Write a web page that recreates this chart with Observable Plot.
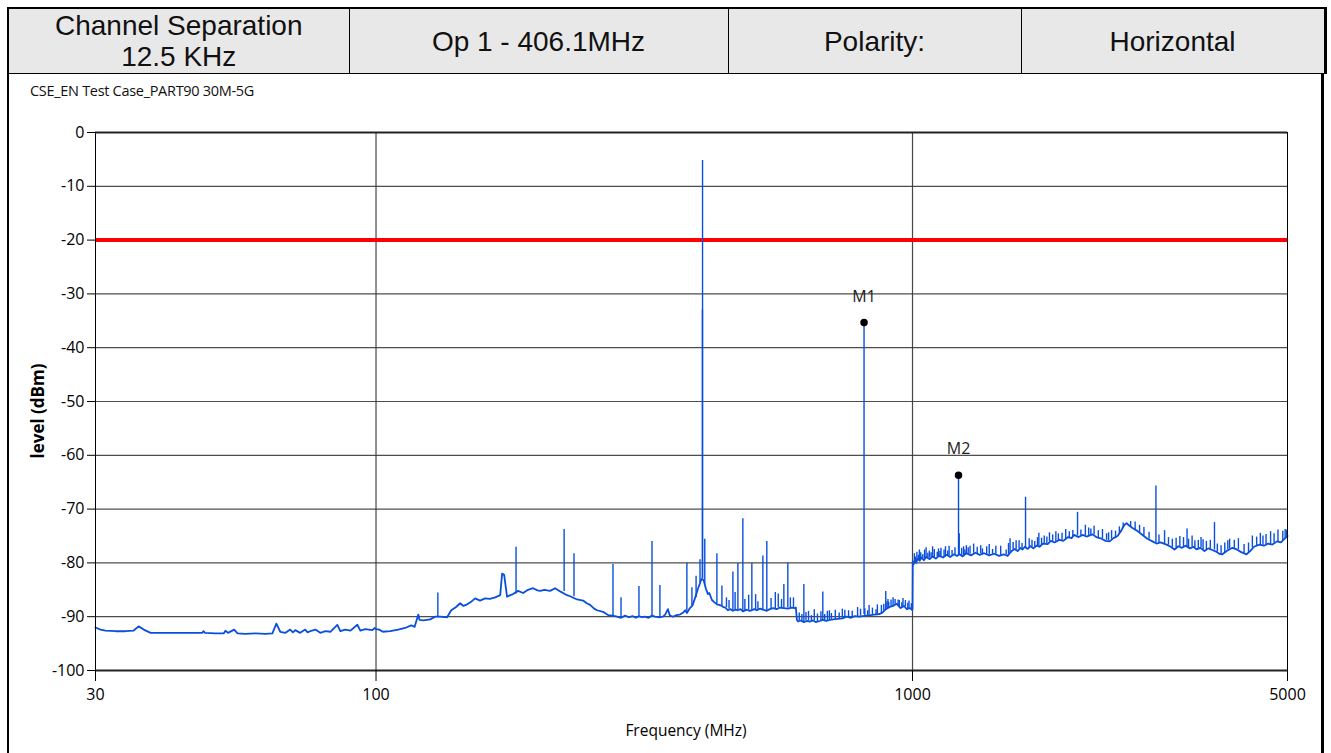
<!DOCTYPE html>
<html>
<head>
<meta charset="utf-8">
<script src="https://cdn.jsdelivr.net/npm/d3@7"></script>
<script src="https://cdn.jsdelivr.net/npm/@observablehq/plot@0.6"></script>
<style>
  html, body { margin: 0; padding: 0; background: #fff; }
  body { width: 1331px; height: 753px; position: relative; overflow: hidden; }
  #sheet {
    position: absolute; left: 7px; top: 7px; width: 1317px; height: 760px;
    border-left: 2px solid #000; border-right: 3px solid #000; box-sizing: border-box;
  }
  table.head {
    position: absolute; left: 7px; top: 7px; width: 1317px; height: 67px;
    border-collapse: collapse; table-layout: fixed;
    font-family: "Liberation Sans", Arial, sans-serif; font-size: 28px; color: #111;
  }
  table.head td {
    background: #e8e8e8; border: 1px solid #000; border-top: 2px solid #000;
    text-align: center; vertical-align: middle; line-height: 31px; padding: 0;
  }
  table.head tr td:first-child { border-left: 2px solid #000; }
  table.head tr td:last-child { border-right: 3px solid #000; }
  #subtitle {
    position: absolute; left: 30px; top: 81px;
    font-family: "Open Sans", sans-serif; font-size: 14.5px; color: #111; letter-spacing: -0.3px;
  }
  #chart { position: absolute; left: 0; top: 100px; }
</style>
</head>
<body>
<div id="sheet"></div>
<table class="head">
  <colgroup><col style="width:341px"><col style="width:379px"><col style="width:293px"><col style="width:304px"></colgroup>
  <tr>
    <td>Channel Separation<br>12.5 KHz</td>
    <td>Op 1 - 406.1MHz</td>
    <td>Polarity:</td>
    <td>Horizontal</td>
  </tr>
</table>
<div id="subtitle">CSE_EN Test Case_PART90 30M-5G</div>
<div id="chart"></div>
<script>
// Axis ticks
const xTicks = [30, 100, 1000, 5000];
const yTicks = [0, -10, -20, -30, -40, -50, -60, -70, -80, -90, -100];

// Limit line (dBm)
const limitLevel = -20;

// Noise floor, 30 MHz – 100 MHz  [frequency MHz, level dBm]
const lowBand = [
  [30, -92.0], [30.65, -92.4], [31.3, -92.6], [32.7, -92.7], [34.1, -92.7], [35.3, -92.6],
  [36.1, -91.8], [36.9, -92.4], [38.0, -93.0], [39.6, -93.0], [42.3, -93.0], [45.1, -93.0],
  [47.4, -93.0], [47.7, -92.7], [48.0, -93.0], [50.2, -93.1], [52.0, -93.1], [52.4, -92.6],
  [53.0, -93.0], [54.4, -92.4], [55.2, -93.1], [57.0, -93.2], [59.6, -93.1], [62.2, -93.2],
  [64.1, -93.1], [65.2, -91.3], [66.3, -92.8], [67.8, -93.0], [69.2, -92.4], [70.0, -92.9],
  [70.7, -92.5], [72.2, -93.0], [73.8, -92.4], [74.5, -92.9], [75.4, -92.7], [77.1, -92.4],
  [78.7, -93.0], [80.5, -92.7], [82.2, -92.8], [84.7, -91.5], [85.8, -92.7], [87.6, -92.4],
  [89.6, -92.6], [92.3, -91.5], [93.5, -92.6], [95.5, -92.3], [98.4, -92.5], [99.5, -92.1]
];

// Noise floor, 100 MHz – 1 GHz
const midBand = [
  [100, -92.3], [101.4, -92.4], [103, -92.8], [106.3, -92.7], [110, -92.4], [113.3, -92.1],
  [116.3, -91.6], [118, -91.9], [119.9, -89.6], [120.5, -90.6], [122.5, -90.7], [126.2, -90.5],
  [128.9, -90.0], [131.7, -90.0], [135.7, -90.1], [138.1, -88.8], [141, -88.2], [143.5, -87.5],
  [145.5, -88.0], [147.9, -87.7], [150.5, -87.2], [153.0, -86.6], [156.3, -87.0], [159.7, -86.6],
  [163, -86.7], [166.8, -86.4], [170.4, -86.0], [171.8, -82.0], [173.3, -82.2], [175.5, -86.3],
  [178, -86.0], [180.1, -85.8], [184.0, -85.2], [188.0, -85.6], [192, -85.0], [196.2, -84.7],
  [200, -85.1], [202.2, -85.2], [206, -85.0], [211.1, -85.2], [215.7, -84.7], [220.4, -85.3],
  [227.0, -86.0], [230.0, -86.2], [237.0, -86.8], [243.2, -87.0], [247, -87.5], [250.6, -87.8],
  [255, -88.5], [258.2, -88.8], [264.9, -89.1], [270.7, -89.7], [276, -89.8], [281.3, -90.0],
  [286.2, -90.2], [291.2, -89.8], [296, -90.1], [301.3, -89.9], [305, -90.2], [309.1, -89.9],
  [313, -90.1], [317.2, -90.0], [322, -90.2], [326.9, -89.8], [331.1, -90.0], [338.2, -90.1],
  [342.6, -90.0], [346, -89.6], [350.0, -88.6], [353, -89.8], [357.6, -90.0], [363, -89.7],
  [368.5, -89.6], [374, -89.2], [377, -88.8], [379.7, -89.3], [384.7, -88.4], [389, -87.9],
  [393.0, -86.6], [396, -85.6], [398.1, -84.8], [401.7, -83.8], [404, -83.0], [408, -83.2],
  [410, -84.0], [412.0, -84.8], [415.6, -85.8], [418, -85.6], [422.8, -86.9], [427, -87.3],
  [431.9, -87.7], [436, -87.8], [441.3, -88.0], [444, -88.2], [448, -88.3], [452.8, -88.8],
  [458, -88.6], [462.6, -88.9], [468, -88.7], [472.6, -88.8], [478, -88.6], [482.8, -89.0],
  [491.2, -88.7], [496, -88.9], [501.8, -88.8], [507, -88.6], [512.7, -88.8], [520, -88.5],
  [526.1, -88.7], [535.1, -88.9], [542.1, -88.6], [550, -88.4], [558, -88.6], [565.9, -88.3],
  [575.7, -88.4], [585.6, -88.5], [595.8, -88.3], [603, -88.4], [606.1, -88.3], [608.9, -90.6],
  [612, -90.9], [618, -90.7], [627.3, -91.0], [636, -90.8], [643.6, -90.9], [652, -90.7],
  [660, -91.0], [671.8, -90.8], [680.5, -90.6], [690, -90.8], [701.2, -90.6], [712, -90.5],
  [725, -90.4], [740, -90.3], [754.2, -90.0], [768, -90.2], [780, -89.9], [795, -90.0],
  [808, -89.9], [820, -89.8], [835, -89.7], [850, -89.6], [868.7, -89.5], [880, -89.2],
  [891.5, -88.6], [906.9, -88.2], [920, -88.0], [934.7, -87.6], [950, -88.4], [965, -88.0],
  [975.6, -88.6], [990, -88.4], [999, -88.8]
];

// Noise floor, 1 GHz – 5 GHz
const highBand = [
  [1000, -88.5], [1001, -79.8], [1004, -80.3], [1010, -79.4], [1016, -80.0], [1022, -79.2],
  [1031, -79.6], [1040, -79.0], [1050, -79.5], [1060, -78.9], [1077, -79.3], [1090, -78.8],
  [1105, -79.2], [1120, -78.7], [1140, -79.0], [1158, -78.5], [1175, -78.9], [1195, -78.4],
  [1210, -78.7], [1224, -78.4], [1240, -78.8], [1260, -78.2], [1285, -78.6], [1310, -78.1],
  [1334, -78.5], [1360, -78.2], [1390, -78.6], [1420, -78.3], [1450, -78.7], [1480, -78.4],
  [1504, -78.7], [1518, -78.2], [1530, -77.8], [1550, -77.4], [1570, -77.8], [1590, -77.2],
  [1604, -77.5], [1620, -77.0], [1640, -77.4], [1660, -76.9], [1680, -77.3], [1703, -76.8],
  [1725, -77.0], [1750, -76.4], [1786, -76.5], [1810, -75.9], [1840, -76.2], [1880, -75.7],
  [1910, -75.9], [1950, -75.2], [1979, -75.4], [2000, -74.8], [2040, -75.2], [2075, -74.8],
  [2110, -75.1], [2166, -74.7], [2200, -75.2], [2251, -75.5], [2290, -75.9], [2330, -76.0],
  [2370, -75.4], [2411, -75.0], [2450, -74.0], [2480, -73.0], [2506, -72.6], [2530, -73.0],
  [2571, -73.5], [2620, -74.0], [2684, -74.8], [2740, -75.5], [2800, -76.0], [2850, -76.4],
  [2900, -76.2], [2975, -76.6], [3030, -77.0], [3078, -77.5], [3130, -76.9], [3180, -77.2],
  [3228, -76.8], [3290, -77.3], [3340, -77.0], [3382, -77.5], [3440, -77.2], [3501, -77.8],
  [3560, -77.3], [3620, -77.6], [3680, -77.9], [3730, -78.3], [3782, -78.4], [3850, -77.8],
  [3948, -77.2], [4020, -77.5], [4100, -78.0], [4194, -78.4], [4260, -77.8], [4330, -77.0],
  [4432, -76.6], [4520, -76.8], [4600, -76.4], [4686, -76.6], [4780, -76.0], [4860, -76.2],
  [4930, -75.6], [5000, -75.0]
];

// Discrete emissions  [frequency MHz, floor dBm, peak dBm]
const spurs = [
  [130.4, -90.0, -85.6], [182.4, -85.8, -77.1], [224.2, -85.3, -73.8], [233.9, -86.3, -78.3],
  [276.5, -89.8, -80.3], [286.2, -90.1, -86.5], [309.1, -89.9, -84.4], [326.9, -89.9, -76.0],
  [338.2, -90.0, -84.2], [379.7, -89.0, -80.0], [388, -88.0, -84.6], [395, -86.5, -82.5],
  [401.7, -83.8, -79.4], [405.9, -83.0, -33.0], [406.1, -83.0, -5.2], [410, -84.0, -75.6],
  [431.9, -87.7, -78.3], [441.3, -88.0, -84.3], [462.6, -88.8, -81.7], [472.6, -88.8, -80.1],
  [482.8, -88.9, -71.8], [501.8, -88.8, -80.1], [526.1, -88.7, -78.7], [535.1, -88.9, -76.0],
  [575.7, -88.4, -84.0], [585.6, -88.4, -80.0], [600, -88.4, -86.5], [627.3, -90.9, -84.0],
  [640, -90.8, -89.0], [680.5, -90.6, -85.4], [700, -90.6, -88.9], [740, -90.3, -88.6],
  [760, -90.1, -88.9], [790, -90.0, -88.3], [812.2, -89.6, -35.3], [830, -89.7, -87.9],
  [860, -89.5, -87.8], [891.5, -88.8, -85.3], [900, -88.5, -86.8], [920, -88.1, -86.5],
  [940, -88.1, -86.9], [960, -88.2, -86.6], [985, -88.5, -87.1],
  [450, -88.3, -86.5], [455, -88.6, -87.0], [467, -88.7, -85.5], [487, -88.9, -86.8],
  [495, -88.8, -86.0], [510, -88.7, -85.9], [515, -88.7, -87.2], [545, -88.6, -86.6],
  [555, -88.5, -85.5], [562, -88.3, -85.8], [570, -88.4, -86.8], [592, -88.4, -86.5],
  [615, -90.8, -89.3], [622, -90.9, -89.6], [633, -90.8, -89.2], [648, -90.8, -89.8],
  [656, -90.8, -88.7], [665, -90.9, -89.5], [675, -90.7, -89.1], [686, -90.7, -89.6],
  [694, -90.7, -89.0], [706, -90.5, -89.4], [718, -90.5, -88.8], [730, -90.4, -89.3],
  [748, -90.1, -88.8], [772, -90.1, -89.0], [800, -89.9, -88.6], [815, -89.9, -88.5],
  [825, -89.8, -88.9], [842, -89.7, -88.4], [855, -89.6, -88.7], [875, -89.4, -87.9],
  [884, -89.0, -87.7], [896, -88.5, -87.2], [903, -88.4, -87.3], [912, -88.2, -86.9],
  [928, -87.9, -86.8], [945, -88.2, -87.0], [955, -88.3, -87.4], [970, -88.1, -87.0],
  [980, -88.6, -87.5], [995, -88.6, -87.6],
  [1008, -79.8, -78.3], [1013, -79.7, -78.9], [1019, -79.6, -78.0], [1026, -79.4, -78.6],
  [1030, -79.6, -77.6], [1036, -79.3, -78.1], [1045, -79.2, -78.5], [1053, -79.2, -77.6],
  [1060, -79.0, -77.2], [1068, -79.1, -78.2], [1075, -79.1, -77.8], [1083, -79.0, -78.1],
  [1090, -78.8, -77.0], [1098, -79.0, -77.5], [1112, -78.9, -78.0], [1118, -78.8, -77.4],
  [1125, -78.8, -77.9], [1130, -78.9, -77.3], [1145, -78.8, -77.6], [1152, -78.7, -77.0],
  [1163, -78.7, -77.8], [1170, -78.7, -76.9], [1185, -78.6, -77.7], [1200, -78.5, -77.2],
  [1218.3, -78.6, -63.7], [1222, -78.5, -74.6], [1235, -78.6, -77.3], [1245, -78.6, -77.0],
  [1252, -78.5, -77.6], [1260, -78.3, -76.8], [1270, -78.4, -77.2], [1280, -78.4, -76.9],
  [1300, -78.2, -76.5], [1320, -78.3, -77.1], [1340, -78.3, -76.8], [1350, -78.4, -77.4],
  [1375, -78.4, -77.0], [1390, -78.5, -76.6], [1410, -78.4, -77.5], [1430, -78.4, -76.9],
  [1460, -78.6, -76.9], [1495, -78.5, -77.6], [1510, -78.4, -76.4], [1520, -78.2, -75.5],
  [1540, -77.6, -76.2], [1560, -77.5, -75.9], [1580, -77.4, -75.9], [1600, -77.4, -76.4],
  [1624.4, -77.3, -67.8], [1650, -77.2, -75.5], [1670, -77.1, -75.8], [1690, -77.1, -76.0],
  [1710, -76.9, -75.3], [1720, -77.0, -74.5], [1740, -76.7, -75.4], [1760, -76.5, -75.0],
  [1780, -76.4, -75.2], [1800, -76.0, -74.4], [1825, -76.0, -74.8], [1850, -76.1, -74.2],
  [1870, -75.9, -74.6], [1900, -75.8, -74.5], [1930, -75.6, -73.8], [1960, -75.3, -74.2],
  [1990, -75.2, -74.0], [2030.5, -75.0, -70.6], [2060, -75.0, -73.9], [2100, -75.0, -73.0],
  [2130, -74.9, -73.5], [2150, -74.8, -73.7], [2180, -74.8, -73.2], [2220, -75.3, -74.0],
  [2260, -75.5, -73.8], [2300, -75.8, -74.6], [2320, -75.9, -74.4], [2350, -75.6, -74.0],
  [2390, -75.3, -74.1], [2430, -74.6, -73.3], [2470, -73.5, -72.6], [2550, -73.3, -72.3],
  [2600, -73.9, -72.4], [2650, -74.4, -73.0], [2700, -75.0, -73.4], [2760, -75.6, -74.3],
  [2842.7, -76.3, -65.7], [2880, -76.3, -74.8], [2950, -76.4, -74.0], [3000, -76.7, -75.3],
  [3050, -77.1, -75.6], [3100, -77.2, -75.4], [3150, -77.0, -75.1], [3200, -77.0, -75.3],
  [3248.8, -77.0, -73.7], [3270, -77.2, -75.6], [3320, -77.1, -75.0], [3360, -77.2, -75.9],
  [3410, -77.4, -75.8], [3450, -77.2, -75.3], [3480, -77.5, -75.7], [3530, -77.6, -76.0],
  [3590, -77.4, -75.8], [3654.9, -77.6, -72.5], [3700, -78.0, -76.5], [3760, -78.3, -76.8],
  [3820, -78.1, -76.3], [3870, -77.6, -75.9], [3900, -77.4, -75.6], [3980, -77.3, -75.8],
  [4050, -77.6, -75.5], [4150, -78.2, -76.6], [4230, -78.1, -76.3], [4300, -77.2, -75.0],
  [4380, -76.8, -75.2], [4450, -76.6, -74.5], [4500, -76.7, -75.0], [4560, -76.6, -74.7],
  [4650, -76.5, -74.2], [4720, -76.3, -74.6], [4800, -76.0, -73.9], [4900, -75.9, -74.1],
  [4950, -75.6, -73.8], [4980, -75.3, -73.9]
];

// Peak markers
const markerNames = ["M1", "M2"];
const markerFreqs = [812.2, 1218.3];
const markerLevels = [-35.3, -63.7];

const trace = [...lowBand, ...midBand, ...highBand].map(([f, level]) => ({f, level}));
const spurRows = spurs.map(([f, floor, peak]) => ({f, floor, peak}));
const markers = markerNames.map((name, i) => ({name, f: markerFreqs[i], level: markerLevels[i]}));

const blue = "#0a4fdc";
const font = "'Open Sans', sans-serif";

const plot = Plot.plot({
  width: 1331,
  height: 653,
  marginTop: 32,
  marginBottom: 83,
  marginLeft: 95,
  marginRight: 44,
  style: {fontFamily: font, fontSize: "16px", color: "#000", background: "transparent"},
  x: {type: "log", domain: [30, 5000]},
  y: {domain: [-100, 0]},
  marks: [
    Plot.gridY(yTicks.filter(d => d > -100 && d < 0), {stroke: "#3a3a3a", strokeOpacity: 0.9, strokeWidth: 1.2}),
    Plot.ruleX([100, 1000], {stroke: "#333", strokeOpacity: 0.9, strokeWidth: 1.2}),
    Plot.ruleY([limitLevel], {stroke: "#ff0000", strokeWidth: 4}),
    Plot.ruleX(spurRows, {x: "f", y1: "floor", y2: "peak", stroke: blue, strokeWidth: 1.4}),
    Plot.line(trace, {x: "f", y: "level", stroke: blue, strokeWidth: 1.8}),
    Plot.dot(markers, {x: "f", y: "level", r: 3, fill: "#000", stroke: "#000"}),
    Plot.text(markers, {x: "f", y: "level", text: "name", dy: -26, fontSize: 16, fill: "#222"}),
    Plot.frame({stroke: "#000"}),
    Plot.ruleY([0, -100], {stroke: "#222", strokeWidth: 2}),
    Plot.axisY({
      ticks: yTicks, tickFormat: d => String(d), tickSize: 8, tickPadding: 3,
      label: null, fontSize: 16
    }),
    Plot.axisX({ticks: xTicks, tickFormat: () => "", tickSize: 11, label: null}),
    Plot.text(xTicks, {x: d => d, frameAnchor: "bottom", dy: 29, text: d => String(d), fontSize: 16, fill: "#000"})
  ]
});

// Axis titles
const svg = d3.select(plot);
svg.append("text")
  .attr("transform", "translate(38,311) rotate(-90)")
  .attr("text-anchor", "middle").attr("dy", "0.35em")
  .attr("font-family", font).attr("font-size", 17).attr("font-weight", "bold").attr("fill", "#000")
  .text("level (dBm)");
svg.append("text")
  .attr("x", 686).attr("y", 631)
  .attr("text-anchor", "middle").attr("dy", "0.35em")
  .attr("font-family", font).attr("font-size", 15.5).attr("fill", "#000")
  .text("Frequency (MHz)");

document.getElementById("chart").appendChild(plot);
</script>
</body>
</html>
